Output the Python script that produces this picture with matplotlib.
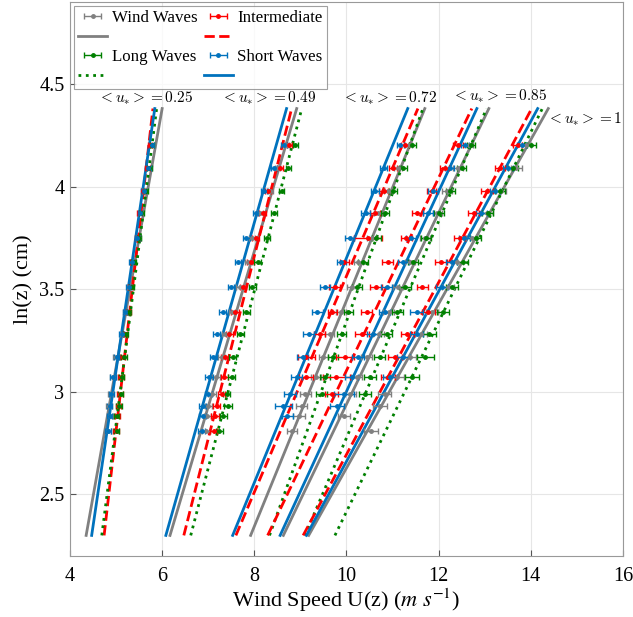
import matplotlib
matplotlib.use('Agg')
import numpy as np
import matplotlib.pyplot as plt

# measurement heights, ln(z) in cm
lnz = [4.20, 4.09, 3.98, 3.87, 3.75, 3.63, 3.51, 3.39, 3.28, 3.17, 3.07, 2.99, 2.93, 2.88, 2.81]
ustar_labels = ['0.25', '0.49', '0.72', '0.85', '1']
nan = np.nan

# mean wind speed per group (rows = <u*> groups, columns = lnz)
wind_u = [
    [5.79, 5.72, 5.61, 5.53, 5.49, 5.36, 5.29, 5.20, 5.13, 5.00, 4.93, 4.88, 4.85, 4.87, 4.82],
    [8.70, 8.50, 8.35, 8.12, 7.95, 7.87, 7.68, 7.52, 7.36, 7.29, 7.17, 7.08, 7.00, 6.98, 6.95],
    [11.35, 11.12, 10.90, 10.68, 10.55, 10.26, 10.12, 9.88, 9.64, 9.50, 9.33, 9.11, 9.03, 8.97, 8.82],
    [12.66, 12.42, 12.18, 11.97, 11.70, 11.38, 11.12, 10.92, 10.70, 10.44, 10.22, 10.08, nan, 9.95, nan],
    [13.90, 13.69, 13.36, 13.05, 12.72, 12.40, 12.20, 11.85, 11.62, 11.37, 11.10, 10.83, 10.72, nan, 10.54],
]
inter_u = [
    [5.74, 5.68, 5.58, 5.51, 5.47, 5.36, 5.31, 5.27, 5.19, 5.14, 5.11, 5.08, 5.05, 5.03, 5.00],
    [8.76, 8.56, 8.30, 8.18, 8.03, 7.92, 7.75, 7.58, 7.46, 7.36, 7.35, 7.29, 7.18, 7.15, 7.12],
    [11.27, 11.01, 10.81, 10.62, 10.47, 9.95, 9.75, 9.69, 9.42, 9.13, 9.12, nan, nan, nan, nan],
    [12.42, 12.13, 11.85, 11.54, 11.30, 10.90, 10.65, 10.44, 10.33, 9.97, 9.78, 9.68, nan, nan, nan],
    [13.72, 13.33, 13.05, 12.76, 12.46, 12.05, 11.65, 11.78, 11.32, 11.05, 10.90, nan, nan, nan, nan],
]
long_u = [
    [5.78, 5.72, 5.65, 5.55, 5.50, 5.38, 5.34, 5.28, 5.21, 5.17, 5.12, 5.10, 5.06, 5.01, 5.01],
    [8.89, 8.74, 8.59, 8.43, 8.27, 8.07, 7.96, 7.83, 7.70, 7.53, 7.51, 7.40, 7.43, 7.33, 7.24],
    [11.43, 11.23, 11.01, 10.83, 10.65, 10.36, 10.23, 10.04, 9.90, 9.71, 9.53, 9.46, nan, nan, nan],
    [12.71, 12.50, 12.25, 12.00, 11.73, 11.45, 11.27, 11.10, 10.87, 10.72, 10.50, 10.41, nan, nan, nan],
    [14.01, 13.62, 13.33, 13.07, 12.81, 12.52, 12.30, 12.10, 11.80, 11.71, 11.43, nan, nan, nan, nan],
]
short_u = [
    [5.77, 5.70, 5.60, 5.52, 5.46, 5.34, 5.27, 5.19, 5.12, 5.01, 4.93, 4.90, 4.86, 4.86, 4.82],
    [8.64, 8.43, 8.21, 8.03, 7.83, 7.65, 7.49, 7.31, 7.18, 7.11, 7.02, 7.00, 6.88, 6.88, 6.86],
    [11.17, 10.81, 10.62, 10.42, 10.07, 9.89, 9.54, 9.37, 9.18, 9.05, 8.92, 8.77, 8.63, 8.72, nan],
    [12.57, 12.24, 11.88, 11.77, 11.40, 11.23, 10.87, 10.83, 10.58, 10.25, 10.11, 9.95, 9.80, nan, nan],
    [13.80, 13.51, 13.22, 12.93, 12.56, 12.28, 12.07, 11.52, 11.52, 11.23, 10.94, nan, nan, nan, nan],
]

# standard errors (m/s)
wind_err = [
    [0.05, 0.05, 0.05, 0.05, 0.05, 0.05, 0.05, 0.05, 0.05, 0.06, 0.06, 0.06, 0.06, 0.07, 0.06],
    [0.06, 0.06, 0.06, 0.06, 0.07, 0.07, 0.07, 0.07, 0.07, 0.07, 0.08, 0.08, 0.08, 0.08, 0.08],
    [0.08, 0.08, 0.09, 0.09, 0.10, 0.10, 0.10, 0.10, 0.10, 0.10, 0.11, 0.11, 0.12, 0.12, 0.10],
    [0.09, 0.10, 0.10, 0.10, 0.11, 0.11, 0.11, 0.12, 0.12, 0.12, 0.12, 0.12, 0.13, 0.13, 0.13],
    [0.10, 0.11, 0.11, 0.12, 0.12, 0.12, 0.13, 0.13, 0.13, 0.14, 0.14, 0.14, 0.15, 0.15, 0.15],
]
inter_err = [
    [0.05, 0.05, 0.05, 0.05, 0.05, 0.05, 0.05, 0.05, 0.05, 0.06, 0.06, 0.06, 0.06, 0.06, 0.06],
    [0.06, 0.06, 0.06, 0.07, 0.07, 0.07, 0.07, 0.08, 0.08, 0.08, 0.08, 0.08, 0.08, 0.08, 0.08],
    [0.08, 0.09, 0.10, 0.10, 0.30, 0.10, 0.12, 0.10, 0.12, 0.18, 0.15, nan, nan, nan, nan],
    [0.10, 0.10, 0.10, 0.12, 0.12, 0.12, 0.13, 0.12, 0.15, 0.20, 0.30, 0.14, nan, nan, nan],
    [0.10, 0.11, 0.12, 0.12, 0.12, 0.13, 0.13, 0.15, 0.14, 0.15, 0.15, nan, nan, nan, nan],
]
long_err = [
    [0.05, 0.05, 0.05, 0.05, 0.05, 0.05, 0.05, 0.05, 0.05, 0.06, 0.06, 0.06, 0.06, 0.06, 0.06],
    [0.06, 0.06, 0.06, 0.06, 0.07, 0.07, 0.07, 0.07, 0.07, 0.08, 0.08, 0.08, 0.08, 0.08, 0.08],
    [0.08, 0.08, 0.09, 0.09, 0.10, 0.10, 0.10, 0.10, 0.10, 0.11, 0.11, 0.12, nan, nan, nan],
    [0.09, 0.10, 0.10, 0.11, 0.11, 0.11, 0.12, 0.12, 0.12, 0.12, 0.13, 0.13, nan, nan, nan],
    [0.10, 0.11, 0.11, 0.12, 0.12, 0.12, 0.13, 0.13, 0.14, 0.18, 0.15, nan, nan, nan, nan],
]
short_err = [
    [0.05, 0.05, 0.05, 0.05, 0.05, 0.05, 0.05, 0.05, 0.05, 0.05, 0.06, 0.06, 0.06, 0.06, 0.06],
    [0.06, 0.06, 0.06, 0.06, 0.07, 0.07, 0.07, 0.07, 0.07, 0.07, 0.08, 0.08, 0.08, 0.08, 0.08],
    [0.08, 0.08, 0.09, 0.10, 0.10, 0.10, 0.11, 0.12, 0.12, 0.12, 0.12, 0.13, 0.19, 0.13, nan],
    [0.09, 0.10, 0.10, 0.11, 0.11, 0.12, 0.12, 0.12, 0.13, 0.13, 0.14, 0.22, 0.15, nan, nan],
    [0.10, 0.11, 0.11, 0.12, 0.12, 0.12, 0.13, 0.14, 0.14, 0.14, 0.15, nan, nan, nan, nan],
]

# log-law fits: U at ln(z)=2.3 and ln(z)=4.38
lnz_fit = [2.3, 4.38]
wind_fit = [[4.35, 6.00], [6.17, 8.92], [7.92, 11.70], [8.63, 13.09], [9.18, 14.38]]
inter_fit = [[4.74, 5.80], [6.47, 8.81], [7.60, 11.55], [8.29, 12.72], [9.06, 14.02]]
long_fit = [[4.69, 5.88], [6.62, 9.03], [8.33, 11.66], [9.10, 13.04], [9.75, 14.25]]
short_fit = [[4.47, 5.84], [6.08, 8.70], [7.53, 11.33], [8.56, 12.83], [9.13, 14.15]]

# label anchor (U, ln z) for each group
label_u = [5.63, 8.30, 10.94, 13.33, 15.17]
label_lnz = [4.43, 4.43, 4.43, 4.44, 4.33]

gray = (0.5, 0.5, 0.5)
red = (1.0, 0.0, 0.0)
green = (0.0, 0.5, 0.0)
blue = (0.0, 0.447, 0.741)

series = [
    ('Wind Waves', wind_u, wind_err, wind_fit, gray, '-'),
    ('Intermediate', inter_u, inter_err, inter_fit, red, '--'),
    ('Long Waves', long_u, long_err, long_fit, green, ':'),
    ('Short Waves', short_u, short_err, short_fit, blue, '-'),
]

plt.rcParams['font.family'] = ['Liberation Serif', 'DejaVu Serif']
plt.rcParams['mathtext.fontset'] = 'stix'

fig = plt.figure(figsize=(6.33, 6.17), dpi=100)
ax = fig.add_axes([0.1106, 0.099, 0.8735, 0.898])

handles = {}
for g in range(5):
    for name, u, err, fit, col, ls in series:
        eb = ax.errorbar(u[g], lnz, xerr=err[g], fmt='.', color=col, ms=5,
                         elinewidth=1.0, capsize=2.5, capthick=1.0, zorder=3)
        ln, = ax.plot(fit[g], lnz_fit, color=col, linestyle=ls, lw=2.0, zorder=2)
        handles[name] = (eb, ln)

for g in range(5):
    ax.text(label_u[g], label_lnz[g], r'$<u_{*}>= ' + ustar_labels[g] + '$',
            ha='center', va='center', fontsize=11,
            math_fontfamily='cm', zorder=5)

ax.set_xlim(4, 16)
ax.set_ylim(2.2, 4.9)
ax.set_xticks([4, 6, 8, 10, 12, 14, 16])
ax.set_yticks([2.5, 3, 3.5, 4, 4.5])
ax.set_yticklabels(['2.5', '3', '3.5', '4', '4.5'])
ax.tick_params(direction='in', length=4, labelsize=14.5, color='#555555')
ax.tick_params(axis='x', pad=8)
ax.tick_params(axis='y', pad=4)
ax.grid(True, color='#e6e6e6', linewidth=0.8)
ax.set_axisbelow(True)
for s in ax.spines.values():
    s.set_color('#999999')
    s.set_linewidth(0.8)

ax.set_xlabel(r'Wind Speed U(z) ($m\ s^{-1}$)', fontsize=16, labelpad=0)
ax.set_ylabel('ln(z) (cm)', fontsize=16, labelpad=4)

order = ['Wind Waves', 'Long Waves', 'Intermediate', 'Short Waves']
hs, ls_ = [], []
for name in order:
    eb, ln = handles[name]
    hs += [eb, ln]
    ls_ += [name, '']
leg = ax.legend(hs, ls_, ncol=2, loc='upper left', fontsize=12.2,
                frameon=True, fancybox=False, edgecolor='#888888',
                borderaxespad=0.25, handlelength=1.7, columnspacing=0.4,
                labelspacing=0.2, borderpad=0.25, handletextpad=0.25)
leg.get_frame().set_linewidth(0.8)

plt.savefig('out.png', dpi=100)
plt.close()
